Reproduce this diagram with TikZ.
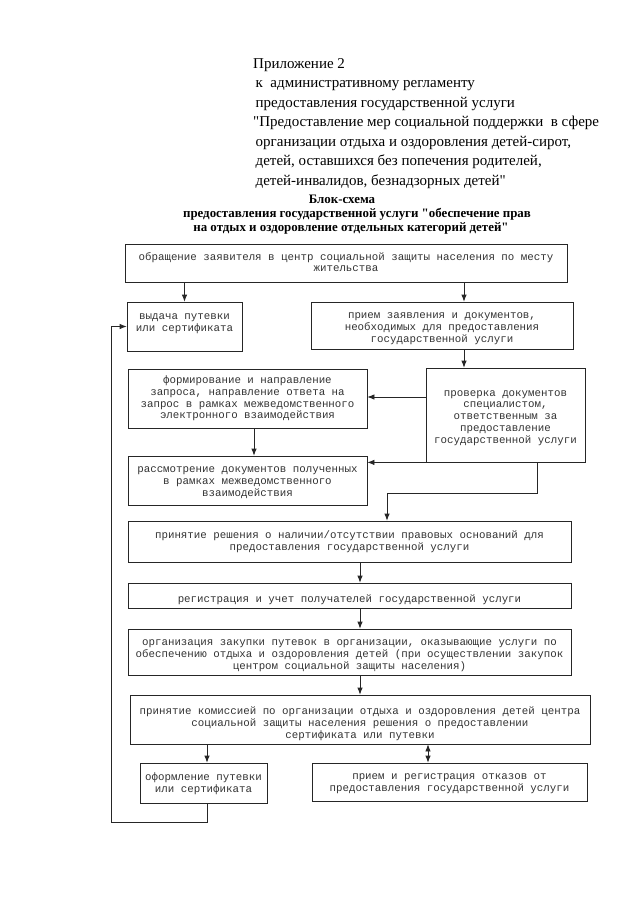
\documentclass[tikz,border=0pt]{standalone}
\usepackage{fontspec}
\setmainfont{Liberation Serif}[Ligatures=TeXOff]
\newfontfamily\boxfont{Liberation Mono}
\usetikzlibrary{arrows.meta, calc, positioning, fit}

\tikzset{
  frm/.style={draw=black!85, line width=0.8pt, inner sep=0pt},
  txt/.style={inner sep=0pt, align=center, text=black!80,
    font=\boxfont\fontsize{10.8}{11.8}\selectfont},
  ttl/.style={inner sep=0pt, anchor=base, font=\bfseries\fontsize{12.9}{14}\selectfont},
  arr/.style={draw=black!85, line width=0.8pt, -{Latex[length=7pt, width=5.5pt]}},
  darr/.style={draw=black!85, line width=0.8pt, {Latex[length=7pt, width=5.5pt]}-{Latex[length=7pt, width=5.5pt]}},
}

\begin{document}
\begin{tikzpicture}[x=1pt, y=-1pt]
  \fill[white] (0,0) rectangle (640,905);
  \useasboundingbox (0,0) rectangle (640,905);

  % header
  \node[anchor=north west, align=left, inner sep=0pt, font=\fontsize{15}{19.5}\selectfont] (hdr) at (253,58)
    {Приложение 2\\
     \,к\ \ административному регламенту\\
     \,предоставления государственной услуги\\
     "Предоставление мер социальной поддержки\ \ в сфере\\
     \,организации отдыха и оздоровления детей-сирот,\\
     \,детей, оставшихся без попечения родителей,\\
     \,детей-инвалидов, безнадзорных детей"};
  \node[ttl] (title1) at (342,203) {Блок-схема};
  \node[ttl] (title2) at (357,217) {предоставления государственной услуги "обеспечение прав};
  \node[ttl] (title3) at (351,231) {на отдых и оздоровление отдельных категорий детей"};

  % boxes
  \node[frm, fit={(125,244) (567,282)}] (obr) {};
  \node[frm, fit={(127,302) (242,351)}] (vyd) {};
  \node[frm, fit={(311,302) (573,349)}] (priem) {};
  \node[frm, fit={(128,369) (367,428)}] (form) {};
  \node[frm, fit={(426,368) (585,462)}] (prov) {};
  \node[frm, fit={(128,456) (367,505)}] (rassm) {};
  \node[frm, fit={(128,521) (571,562)}] (prin) {};
  \node[frm, fit={(128,583) (571,608)}] (reg) {};
  \node[frm, fit={(128,629) (571,675)}] (org) {};
  \node[frm, fit={(130,695) (590,744)}] (kom) {};
  \node[frm, fit={(140,763) (267,803)}] (ofor) {};
  \node[frm, fit={(312,763) (587,801)}] (otk) {};

  % box texts
  \node[txt] (obr-t) at ([yshift=1pt]obr.center)
    {обращение заявителя в центр социальной защиты населения по месту\\жительства};
  \node[txt] (vyd-t) at ([yshift=3pt]vyd.center)
    {выдача путевки\\или сертификата};
  \node[txt] (priem-t) at ([yshift=-3pt]priem.center)
    {прием заявления и документов,\\необходимых для предоставления\\государственной услуги};
  \node[txt] (form-t) at ([yshift=0pt]form.center)
    {формирование и направление\\запроса, направление ответа на\\запрос в рамках межведомственного\\электронного взаимодействия};
  \node[txt] (prov-t) at ([yshift=-3pt]prov.center)
    {проверка документов\\специалистом,\\ответственным за\\предоставление\\государственной услуги};
  \node[txt] (rassm-t) at ([yshift=-2pt]rassm.center)
    {рассмотрение документов полученных\\в рамках межведомственного\\взаимодействия};
  \node[txt] (prin-t) at ([yshift=0pt]prin.center)
    {принятие решения о наличии/отсутствии правовых оснований для\\предоставления государственной услуги};
  \node[txt] (reg-t) at ([yshift=-4pt]reg.center)
    {регистрация и учет получателей государственной услуги};
  \node[txt] (org-t) at ([yshift=-4pt]org.center)
    {организация закупки путевок в организации, оказывающие услуги по\\обеспечению отдыха и оздоровления детей (при осуществлении закупок\\центром социальной защиты населения)};
  \node[txt] (kom-t) at ([yshift=-4pt]kom.center)
    {принятие комиссией по организации отдыха и оздоровления детей центра\\социальной защиты населения решения о предоставлении\\сертификата или путевки};
  \node[txt] (ofor-t) at ([yshift=-1pt]ofor.center)
    {оформление путевки\\или сертификата};
  \node[txt] (otk-t) at ([yshift=-2pt]otk.center)
    {прием и регистрация отказов от\\предоставления государственной услуги};

  % connectors
  \draw[arr] (obr.south -| vyd.north) -- (vyd.north);
  \draw[arr] (obr.south -| 464,0) -- (priem.north -| 464,0);
  \draw[arr] (priem.south -| 464,0) -- (prov.north -| 464,0);
  \draw[arr] (prov.west |- 0,397) -- (form.east |- 0,397);
  \draw[arr] (form.south -| 254,0) -- (rassm.north -| 254,0);
  \draw[arr] (prov.south west) -- (prov.south west -| rassm.east);
  \draw[arr] (prov.south -| 537,0) |- (387,493) -- (prin.north -| 387,0);
  \foreach \a/\b in {prin/reg, reg/org, org/kom}
    \draw[arr] (\a.south -| 360,0) -- (\b.north -| 360,0);
  \draw[arr] (kom.south -| 207,0) -- (ofor.north -| 207,0);
  \draw[darr] (kom.south -| 428,0) -- (otk.north -| 428,0);
  \draw[arr] (ofor.south -| 207,0) |- (111,822) |- (vyd.west);
\end{tikzpicture}
\end{document}
